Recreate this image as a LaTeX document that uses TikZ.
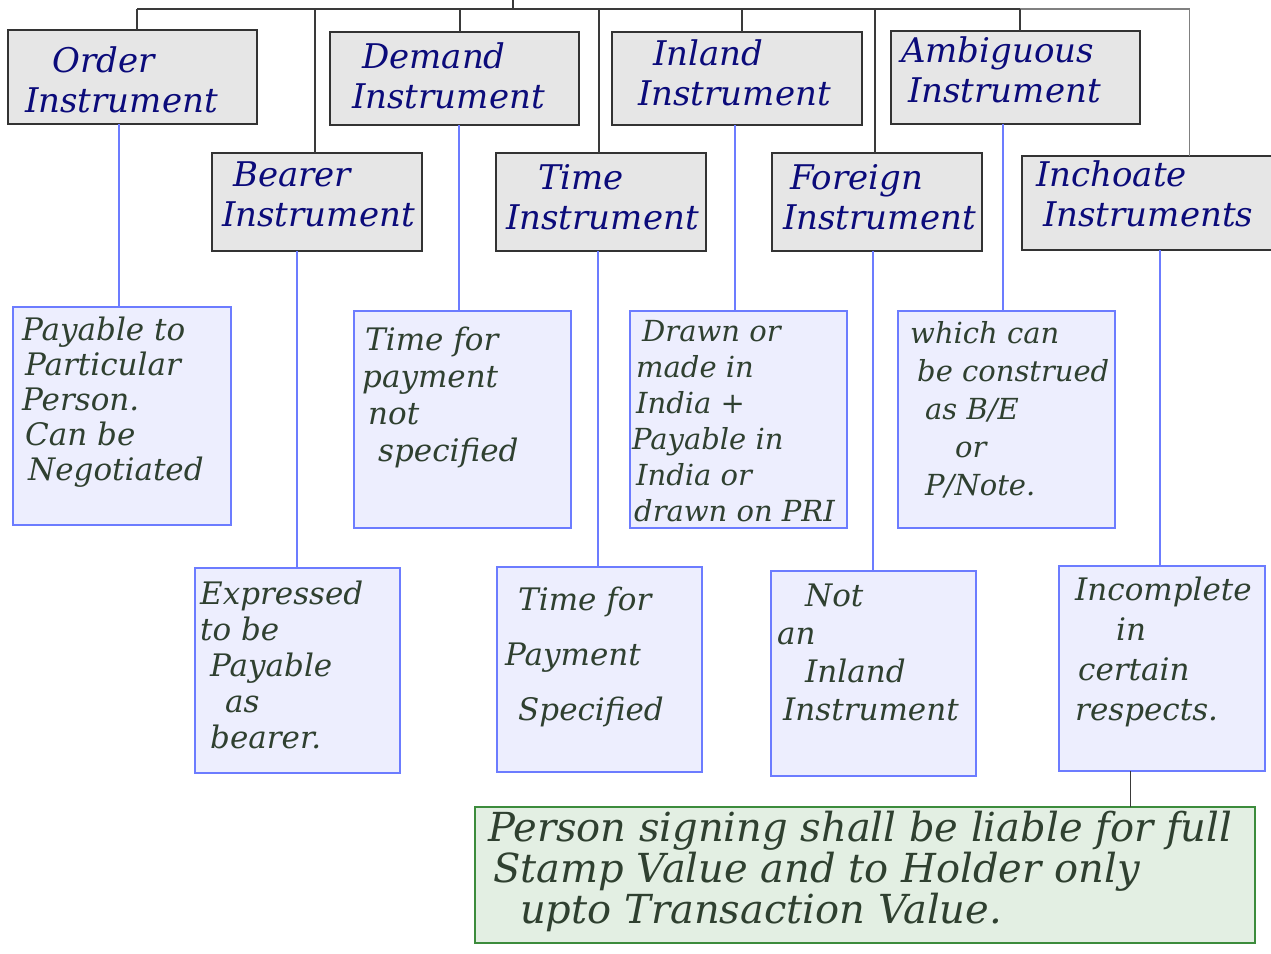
\documentclass[tikz,border=0pt]{standalone}
\usepackage{fontspec}
\setmainfont{DejaVu Serif}
\definecolor{headfill}{HTML}{E6E6E6}
\definecolor{headline}{HTML}{333333}
\definecolor{headink}{HTML}{0B0B7A}
\definecolor{leaffill}{HTML}{EDEEFE}
\definecolor{leafline}{HTML}{6C7CFF}
\definecolor{leafink}{HTML}{2F4030}
\definecolor{notefill}{HTML}{E3EFE3}
\definecolor{noteline}{HTML}{3C8C3C}
\definecolor{treeline}{HTML}{3A3A3A}
\definecolor{treelight}{HTML}{808080}
\begin{document}
\begin{tikzpicture}[x=1pt,y=-1pt,
  headbox/.style={draw=headline, fill=headfill, line width=1.3pt, inner sep=0pt, outer sep=0pt, anchor=north west},
  leafbox/.style={draw=leafline, fill=leaffill, line width=1.1pt, inner sep=0pt, outer sep=0pt, anchor=north west},
  notebox/.style={draw=noteline, fill=notefill, line width=1.3pt, inner sep=0pt, outer sep=0pt, anchor=north west},
  headtxt/.style={anchor=north west, inner sep=0pt, align=left, text=headink, font=\fontsize{34}{40}\selectfont\itshape},
  leaftxt/.style 2 args={anchor=north west, inner sep=0pt, align=left, text=leafink, font=\fontsize{#1}{#2}\selectfont\itshape},
  notetxt/.style={anchor=north west, inner sep=0pt, align=left, text=leafink, font=\fontsize{40}{41}\selectfont\itshape},
  tree/.style={draw=treeline, line width=1.2pt},
  link/.style={draw=leafline, line width=1.3pt}]
\useasboundingbox[fill=white] (0,0) rectangle (1271,953);

% instrument headings
\node[headbox, minimum width=249pt, minimum height=94pt] (order) at (8,30) {};
\node[headbox, minimum width=210pt, minimum height=98pt] (bearer) at (212,153) {};
\node[headbox, minimum width=249pt, minimum height=93pt] (demand) at (330,32) {};
\node[headbox, minimum width=210pt, minimum height=98pt] (time) at (496,153) {};
\node[headbox, minimum width=250pt, minimum height=93pt] (inland) at (612,32) {};
\node[headbox, minimum width=210pt, minimum height=98pt] (foreign) at (772,153) {};
\node[headbox, minimum width=249pt, minimum height=93pt] (ambig) at (891,31) {};
\node[headbox, minimum width=252pt, minimum height=94pt] (inch) at (1022,156) {};

\node[headtxt] (orderT) at (25,46) {\hspace*{27pt}Order\\Instrument};
\node[headtxt] (bearerT) at (222,162) {\hspace*{11pt}Bearer\\Instrument};
\node[headtxt] (demandT) at (352,42) {\hspace*{10pt}Demand\\Instrument};
\node[headtxt] (timeT) at (506,164) {\hspace*{32pt}Time\\Instrument};
\node[headtxt] (inlandT) at (638,39) {\hspace*{15pt}Inland\\Instrument};
\node[headtxt] (foreignT) at (783,164) {\hspace*{7pt}Foreign\\Instrument};
\node[headtxt] (ambigT) at (901,36) {Ambiguous\\\hspace*{7pt}Instrument};
\node[headtxt] (inchT) at (1036,160) {Inchoate\\\hspace*{7pt}Instruments};

% descriptions
\node[leafbox, minimum width=218pt, minimum height=218pt] (pay) at (13,307) {};
\node[leafbox, minimum width=205pt, minimum height=205pt] (expr) at (195,568) {};
\node[leafbox, minimum width=217pt, minimum height=217pt] (tnot) at (354,311) {};
\node[leafbox, minimum width=205pt, minimum height=205pt] (tspec) at (497,567) {};
\node[leafbox, minimum width=217pt, minimum height=217pt] (drawn) at (630,311) {};
\node[leafbox, minimum width=205pt, minimum height=205pt] (notinl) at (771,571) {};
\node[leafbox, minimum width=217pt, minimum height=217pt] (which) at (898,311) {};
\node[leafbox, minimum width=206pt, minimum height=205pt] (incompl) at (1059,566) {};

\node[leaftxt={31}{35}] (payT) at (22,317) {Payable to\\\hspace*{3pt}Particular\\Person.\\\hspace*{3pt}Can be\\\hspace*{6pt}Negotiated};
\node[leaftxt={31}{36}] (exprT) at (200,581) {Expressed\\to be\\\hspace*{10pt}Payable\\\hspace*{25pt}as\\\hspace*{10pt}bearer.};
\node[leaftxt={31}{37}] (tnotT) at (362,327) {\hspace*{3pt}Time for\\payment\\\hspace*{6pt}not\\\hspace*{16pt}specified};
\node[leaftxt={31}{55}] (tspecT) at (505,587) {\hspace*{13pt}Time for\\Payment\\\hspace*{13pt}Specified};
\node[leaftxt={29}{36}] (drawnT) at (632,320) {\hspace*{10pt}Drawn or\\\hspace*{4pt}made in\\\hspace*{4pt}India +\\Payable in\\\hspace*{4pt}India or\\\hspace*{2pt}drawn on PRI};
\node[leaftxt={29}{38}] (whichT) at (910,321) {which can\\\hspace*{7pt}be construed\\\hspace*{15pt}as B/E\\\hspace*{45pt}or\\\hspace*{15pt}P/Note.};
\node[leaftxt={31}{38}] (notinlT) at (777,584) {\hspace*{28pt}Not\\an\\\hspace*{28pt}Inland\\\hspace*{6pt}Instrument};
\node[leaftxt={31}{40}] (incomplT) at (1075,577) {Incomplete\\\hspace*{41pt}in\\\hspace*{3pt}certain\\respects.};

% liability note
\node[notebox, minimum width=780pt, minimum height=136pt] (note) at (475,807) {};
\node[notetxt] (noteT) at (488,811) {Person signing shall be liable for full\\\hspace*{5pt}Stamp Value and to Holder only\\\hspace*{32pt}upto Transaction Value.};

% tree of headings
\coordinate (root) at (513,0);
\coordinate (bus) at (0,9);
\draw[tree] (root) -- (root |- bus);
\draw[tree] ([xshift=4.5pt]order.north |- bus) -- ([xshift=4.5pt]ambig.north |- bus);
\draw[draw=treelight, line width=1.2pt] ([xshift=4.5pt]ambig.north |- bus) -- ([xshift=41.5pt]inch.north |- bus);
\draw[tree] ([xshift=4.5pt]order.north) -- ([xshift=4.5pt]order.north |- bus);
\draw[tree] ([xshift=-2pt]bearer.north) -- ([xshift=-2pt]bearer.north |- bus);
\draw[tree] ([xshift=5.5pt]demand.north) -- ([xshift=5.5pt]demand.north |- bus);
\draw[tree] ([xshift=-2pt]time.north) -- ([xshift=-2pt]time.north |- bus);
\draw[tree] ([xshift=5pt]inland.north) -- ([xshift=5pt]inland.north |- bus);
\draw[tree] ([xshift=-2pt]foreign.north) -- ([xshift=-2pt]foreign.north |- bus);
\draw[tree] ([xshift=4.5pt]ambig.north) -- ([xshift=4.5pt]ambig.north |- bus);
\draw[draw=treelight, line width=1.2pt] ([xshift=41.5pt]inch.north) -- ([xshift=41.5pt]inch.north |- bus);

% headings to descriptions
\draw[link] ([xshift=-3pt]pay.north) -- ([xshift=-3pt]pay.north |- order.south);
\draw[link] ([xshift=-0.5pt]expr.north) -- ([xshift=-0.5pt]expr.north |- bearer.south);
\draw[link] ([xshift=-3.5pt]tnot.north) -- ([xshift=-3.5pt]tnot.north |- demand.south);
\draw[link] ([xshift=-1.5pt]tspec.north) -- ([xshift=-1.5pt]tspec.north |- time.south);
\draw[link] ([xshift=-3.5pt]drawn.north) -- ([xshift=-3.5pt]drawn.north |- inland.south);
\draw[link] ([xshift=-0.5pt]notinl.north) -- ([xshift=-0.5pt]notinl.north |- foreign.south);
\draw[link] ([xshift=-3.5pt]which.north) -- ([xshift=-3.5pt]which.north |- ambig.south);
\draw[link] ([xshift=-2pt]incompl.north) -- ([xshift=-2pt]incompl.north |- inch.south);

% inchoate description to liability note
\draw[draw=treeline, line width=0.9pt] ([xshift=-32pt]incompl.south) -- ([xshift=-32pt]incompl.south |- note.north);
\end{tikzpicture}
\end{document}
